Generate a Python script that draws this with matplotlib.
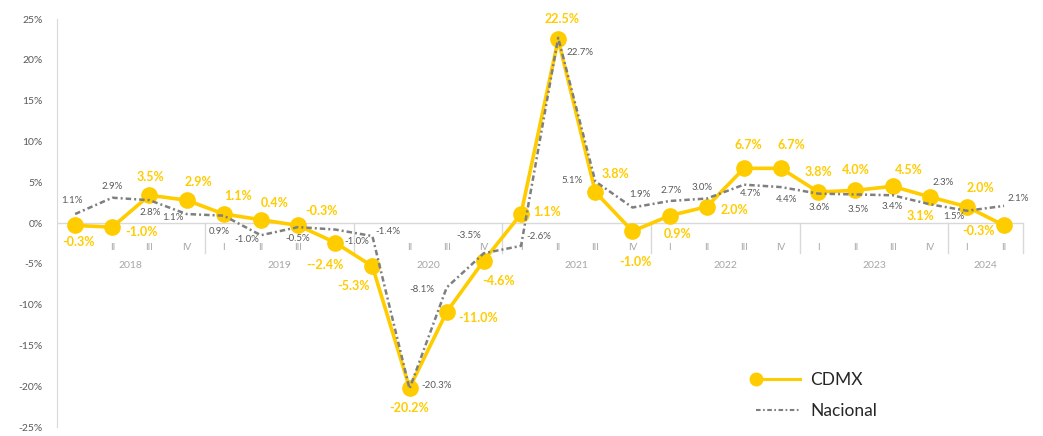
import matplotlib.pyplot as plt
from matplotlib.lines import Line2D
from matplotlib.legend_handler import HandlerLine2D

plt.rcParams['font.family'] = ['Lato', 'DejaVu Sans']

# quarterly data 2018 Q1 .. 2024 Q2
years = ['2018', '2019', '2020', '2021', '2022', '2023', '2024']
year_len = [4, 4, 4, 4, 4, 4, 2]
quarters = ['', 'II', 'III', 'IV', 'I', 'II', 'III', '', '', 'II', 'III', 'IV',
            'I', 'II', 'III', 'IV', 'I', 'II', 'III', 'IV', 'I', 'II', 'III', 'IV',
            'I', 'II']

cdmx = [-0.3, -0.5, 3.4, 2.8, 1.1, 0.4, -0.3, -2.4, -5.3, -20.2, -10.9, -4.6,
        1.1, 22.5, 3.8, -1.0, 0.9, 2.0, 6.7, 6.7, 3.8, 4.0, 4.5, 3.2, 2.0, -0.3]
cdmx_lbl = ['-0.3%', '-1.0%', '3.5%', '2.9%', '1.1%', '0.4%', '-0.3%', '--2.4%',
            '-5.3%', '-20.2%', '-11.0%', '-4.6%', '1.1%', '22.5%', '3.8%', '-1.0%',
            '0.9%', '2.0%', '6.7%', '6.7%', '3.8%', '4.0%', '4.5%', '3.1%', '2.0%',
            '-0.3%']

nacional = [1.1, 3.1, 2.8, 1.1, 0.9, -1.5, -0.5, -0.8, -1.6, -20.3, -7.9, -3.7,
            -2.8, 22.7, 5.1, 1.9, 2.7, 3.0, 4.7, 4.4, 3.6, 3.5, 3.4, 2.3, 1.5, 2.1]
nac_lbl = ['1.1%', '2.9%', '2.8%', '1.1%', '0.9%', '-1.0%', '-0.5%', '-1.0%',
           '-1.4%', '-20.3%', '-8.1%', '-3.5%', '-2.6%', '22.7%', '5.1%', '1.9%',
           '2.7%', '3.0%', '4.7%', '4.4%', '3.6%', '3.5%', '3.4%', '2.3%', '1.5%',
           '2.1%']

# label offsets in pixels
cdmx_off = [(3, -17), (29, -5), (1, 18), (12, 18), (14, 18), (14, 17), (23, 14),
            (-10, -22), (-19, -20), (0, -20), (31, -6), (15, -20), (26, 2), (4, 20),
            (20, 18), (3, -31), (8, -18), (28, -3), (4, 23), (10, 23), (0, 20),
            (0, 20), (16, 16), (-9, -19), (14, 19), (-26, -6)]
nac_off = [(-3, 14), (0, 11), (1, -12), (-14, -3), (-4, -16), (-14, -4), (0, -11),
           (22, -12), (16, 5), (27, 3), (-25, -2), (-15, 18), (18, 9), (22, -15),
           (-23, 1), (7, 13), (1, 10), (-5, 11), (6, -9), (5, -12), (1, -14),
           (3, -15), (0, -11), (13, 22), (-13, -6), (14, 7)]

yellow = '#FFCC00'
gray = '#7F7F7F'
dash = (0, (2.2, 1.2, 0.8, 1.2))

x = list(range(len(cdmx)))

fig = plt.figure(figsize=(10.43, 4.36), dpi=100)
ax = fig.add_axes([0.0542, 0.0206, 0.9263, 0.9358])

ax.plot(x, cdmx, color=yellow, lw=2.6, marker='o', ms=11, zorder=3)
ax.plot(x, nacional, color=gray, lw=1.8, ls=dash, zorder=4)

for i in x:
    ax.annotate(cdmx_lbl[i], (i, cdmx[i]), xytext=cdmx_off[i], textcoords='offset pixels',
                ha='center', va='center', color=yellow, fontsize=9, fontweight='bold',
                zorder=5)
    ax.annotate(nac_lbl[i], (i, nacional[i]), xytext=nac_off[i], textcoords='offset pixels',
                ha='center', va='center', color='#595959', fontsize=7, zorder=5)

ax.set_xlim(-0.5, len(x) - 0.5)
ax.set_ylim(-25, 25)
ax.set_yticks(range(-25, 30, 5))
ax.set_yticklabels([f'{v}%' for v in range(-25, 30, 5)])
ax.tick_params(axis='y', length=0, labelsize=7.5, labelcolor='#595959', pad=10)
ax.set_xticks([])
for s in ['top', 'right', 'bottom']:
    ax.spines[s].set_visible(False)
ax.spines['left'].set_color('#D9D9D9')
ax.axhline(0, color='#D9D9D9', lw=1, zorder=1)

# category axis: quarters, years, separators
for i, q in enumerate(quarters):
    ax.text(i, -3.0, q, ha='center', va='center', fontsize=7, color='#A6A6A6', zorder=2)
start = 0
for y, n in zip(years, year_len):
    ax.text(start + (n - 1) / 2, -5.2, y, ha='center', va='center', fontsize=7.5,
            color='#A6A6A6', zorder=2)
    start += n
    ax.plot([start - 0.5, start - 0.5], [0, -3.7], color='#D9D9D9', lw=1, zorder=1,
            clip_on=False)


class MarkerLeft(HandlerLine2D):
    def create_artists(self, *args, **kwargs):
        arts = super().create_artists(*args, **kwargs)
        arts[0].set_markevery([0])
        return arts


h1 = Line2D([], [], color=yellow, lw=2.2, marker='o', ms=9)
h2 = Line2D([], [], color=gray, lw=1.5, ls=dash)
fig.legend([h1, h2], ['CDMX', 'Nacional'], loc='center left',
           bbox_to_anchor=(0.71, 0.093), frameon=False, fontsize=12.5,
           handlelength=2.5, labelspacing=0.9, handletextpad=0.6, numpoints=1,
           handler_map={h1: MarkerLeft()}, labelcolor='#262626')

fig.savefig('out.png', dpi=100)
